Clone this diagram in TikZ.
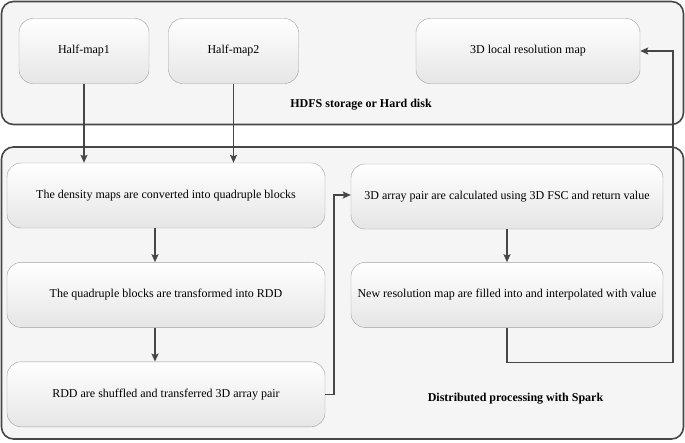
\documentclass[tikz,border=0pt]{standalone}
\usepackage{fontspec}
\setmainfont{Liberation Serif}
\usetikzlibrary{shapes,arrows,arrows.meta,positioning,calc}

\begin{document}
\begin{tikzpicture}[x=1pt, y=-1pt]
  \tikzstyle{container}=[rectangle, rounded corners=12pt, draw=black!72, line width=1.6pt, fill=gray!8]
  \tikzstyle{process}=[rectangle, rounded corners=14pt, draw=gray!75, thin, top color=white, bottom color=gray!20, font=\fontsize{12}{14}\selectfont, align=center, minimum height=65pt]
  \tikzstyle{title}=[font=\fontsize{12}{14}\selectfont\bfseries]
  \tikzstyle{arrow}=[-{Stealth[length=8pt, width=7pt, inset=1.5pt]}, line width=1.5pt, draw=black!72]

  \useasboundingbox (0,0) rectangle (685,442);

  % containers
  \node[container, minimum width=682pt, minimum height=123pt] (hdfs) at (342.5,63) {};
  \node[container, minimum width=682pt, minimum height=292pt] (spark) at (342.5,293) {};
  \node[title] (hdfslbl) at (361,105) {HDFS storage or Hard disk};
  \node[title] (sparklbl) at (515.5,399) {Distributed processing with Spark};

  % storage
  \node[process, minimum width=130pt] (h1) at (84,51) {Half-map1};
  \node[process, minimum width=130pt] (h2) at (233.5,51) {Half-map2};
  \node[process, minimum width=224pt] (map) at (528,51) {3D local resolution map};

  % spark steps
  \node[process, minimum width=318pt] (s1) at (166,195.5) {The density maps are converted into quadruple blocks};
  \node[process, minimum width=318pt, below=34pt of s1] (s2) {The quadruple blocks are transformed into RDD};
  \node[process, minimum width=318pt, below=34pt of s2] (s3) {RDD are shuffled and transferred 3D array pair};
  \node[process, minimum width=312pt] (s4) at (507,196.5) {3D array pair are calculated using 3D FSC and return value};
  \node[process, minimum width=312pt, below=33pt of s4] (s5) {New resolution map are filled into and interpolated with value};

  \draw[arrow] (h1.south) -- (h1.south |- s1.north);
  \draw[arrow] (h2.south) -- (h2.south |- s1.north);
  \draw[arrow] ([xshift=-11pt]s1.south) -- ([xshift=-11pt]s2.north);
  \draw[arrow] ([xshift=-11pt]s2.south) -- ([xshift=-11pt]s3.north);
  \draw[arrow] (s3.east) -- ++(9,0) |- ([yshift=1.5pt]s4.west);
  \draw[arrow] (s4.south) -- (s5.north);
  \draw[arrow] (s5.south) |- ++(166,35) |- (map.east);
\end{tikzpicture}
\end{document}
